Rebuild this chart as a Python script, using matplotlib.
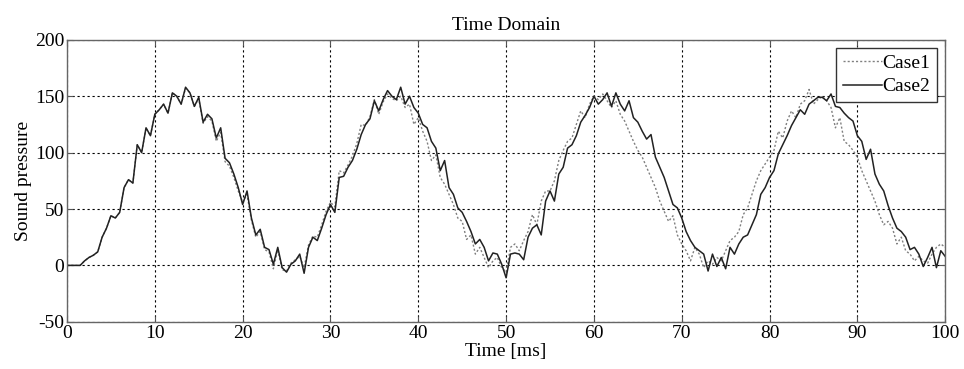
import numpy as np
import matplotlib
matplotlib.use("Agg")
import matplotlib.pyplot as plt

plt.rcParams['font.family'] = ['Liberation Serif', 'DejaVu Serif']
plt.rcParams['font.size'] = 14
plt.rcParams['axes.unicode_minus'] = False

# Sample grid (ms), 0.5 ms spacing
time_ms = np.arange(0, 100.25, 0.5)

# Sound pressure, Case1 (dotted)
case1 = [
    0, 0, 0, 0, 4, 7, 9, 12, 25, 33,
    44, 42, 47, 69, 76, 73, 107, 100, 122, 115,
    134, 138, 143, 135, 153, 150, 143, 157, 153, 141,
    148, 126, 132, 128, 110, 118, 92, 88, 78, 66,
    56, 63, 40, 25, 30, 14, 12, -3, 14, -4,
    -5, 2, 5, 8, -2, 18, 26, 25, 36, 48,
    56, 52, 84, 82, 89, 97, 108, 125, 124, 132,
    147, 134, 145, 152, 148, 146, 150, 140, 143, 125,
    131, 119, 110, 93, 98, 78, 72, 63, 54, 42,
    39, 23, 27, 10, 16, 7, -2, 4, 7, -2,
    -6, 16, 19, 13, 22, 30, 45, 36, 57, 66,
    66, 75, 93, 102, 110, 113, 125, 137, 131, 143,
    150, 147, 152, 146, 140, 146, 134, 128, 119, 110,
    102, 96, 87, 78, 69, 57, 48, 39, 44, 27,
    19, 13, 4, 16, 10, -2, 4, 1, 7, 4,
    13, 22, 25, 30, 45, 51, 63, 75, 84, 90,
    96, 102, 119, 113, 128, 137, 131, 143, 146, 156,
    143, 147, 150, 146, 140, 122, 131, 110, 107, 102,
    96, 84, 75, 66, 57, 45, 36, 39, 33, 19,
    25, 13, 10, 4, 8, 4, 2, 10, 16, 19,
    16,
]

# Sound pressure, Case2 (solid)
case2 = [
    0, 0, 0, 0, 4, 7, 9, 12, 25, 33,
    44, 42, 47, 69, 76, 73, 107, 100, 122, 115,
    134, 138, 143, 135, 153, 150, 143, 158, 153, 141,
    149, 127, 134, 130, 113, 122, 95, 91, 81, 69,
    54, 66, 42, 27, 32, 16, 14, 1, 16, -2,
    -6, 1, 4, 10, -7, 16, 25, 22, 33, 45,
    54, 47, 78, 79, 87, 93, 103, 116, 125, 130,
    146, 137, 147, 155, 150, 147, 158, 143, 150, 140,
    135, 125, 122, 110, 104, 84, 93, 69, 63, 51,
    47, 39, 30, 19, 23, 16, 4, 11, 10, 1,
    -11, 10, 11, 10, 5, 25, 33, 36, 27, 57,
    66, 57, 81, 87, 104, 107, 115, 127, 133, 140,
    150, 143, 147, 153, 141, 153, 143, 137, 146, 131,
    127, 119, 112, 116, 96, 87, 78, 66, 54, 51,
    42, 30, 22, 16, 13, 10, -5, 10, -1, 7,
    -3, 16, 10, 19, 25, 27, 36, 45, 63, 69,
    78, 84, 99, 107, 115, 124, 131, 138, 134, 143,
    146, 149, 149, 146, 152, 141, 140, 135, 131, 128,
    115, 110, 94, 103, 81, 72, 66, 53, 42, 33,
    30, 25, 14, 16, 10, -1, 7, 16, -2, 13,
    8,
]

x_ticks = [0, 10, 20, 30, 40, 50, 60, 70, 80, 90, 100]
y_ticks = [-50, 0, 50, 100, 150, 200]

fig = plt.figure(figsize=(9.64, 3.69), dpi=100)
ax = fig.add_axes([0.0695, 0.128, 0.911, 0.764])

ax.plot(time_ms, case1, linestyle=(0, (1.5, 1.5)), color='#808080',
        linewidth=1.0, label='Case1')
ax.plot(time_ms, case2, linestyle='-', color='#222222',
        linewidth=1.1, label='Case2')

ax.set_xlim(0, 100)
ax.set_ylim(-50, 200)
ax.set_xticks(x_ticks)
ax.set_yticks(y_ticks)
ax.grid(True, color='black', linestyle=(0, (2, 2.5)), linewidth=0.8)
ax.tick_params(direction='in', length=4, top=True, right=True,
               color='#555555', labelsize=14, pad=2)
for s in ax.spines.values():
    s.set_color('#666666')
    s.set_linewidth(1.0)

ax.set_title('Time Domain', fontsize=14, pad=7)
ax.set_xlabel('Time [ms]', fontsize=14, labelpad=1)
ax.set_ylabel('Sound pressure', fontsize=14, labelpad=2)

leg = ax.legend(loc='upper right', fontsize=14, handlelength=2.0,
                handletextpad=0.05, borderpad=0.35, labelspacing=0.3,
                borderaxespad=0.4, fancybox=False, framealpha=1)
leg.get_frame().set_edgecolor('#333333')
leg.get_frame().set_linewidth(1.0)

fig.savefig('out.png', dpi=100)
